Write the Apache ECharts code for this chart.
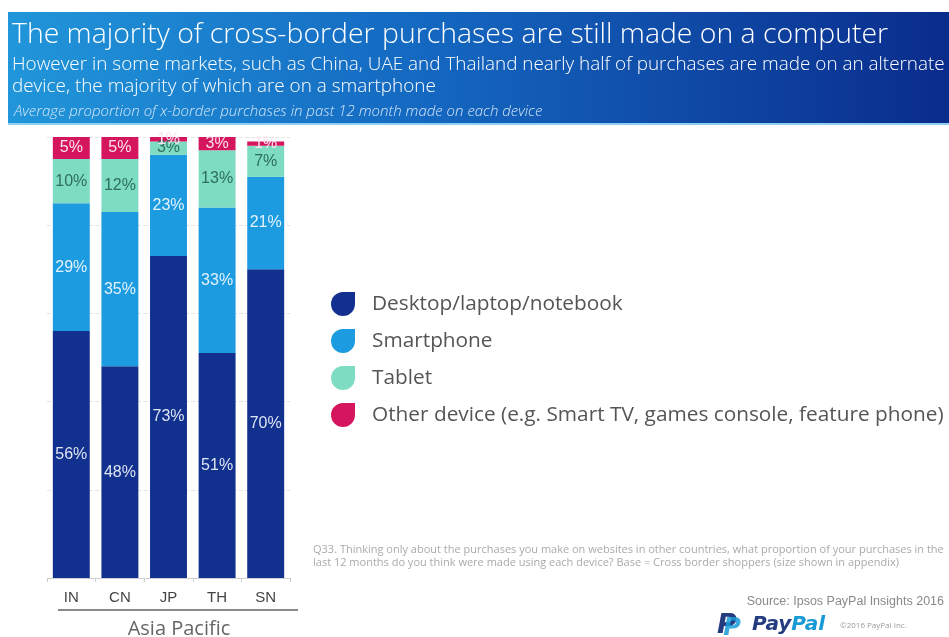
<!DOCTYPE html>
<html>
<head>
<meta charset="utf-8">
<script src="https://cdn.jsdelivr.net/npm/echarts@6/dist/echarts.min.js"></script>
<style>
html,body{margin:0;padding:0;background:#fff;}
#chart{width:949px;height:637px;}
</style>
</head>
<body>
<div id="chart"></div>
<script>
const countries = ['IN', 'CN', 'JP', 'TH', 'SN'];
const desktop = [56, 48, 73, 51, 70];
const smartphone = [29, 35, 23, 33, 21];
const tablet = [10, 12, 3, 13, 7];
const other = [5, 5, 1, 3, 1];
const seriesNames = ['Desktop/laptop/notebook', 'Smartphone', 'Tablet', 'Other device (e.g. Smart TV, games console, feature phone)'];
const yTicks = [0, 20, 40, 60, 80, 100];

const colors = ['#12308e', '#1c9be0', '#7ddcc2', '#d6155f'];
const labelColors = ['#dde4f2', '#e2f2fb', '#2f6e5e', '#fbe3ec'];
const dataSets = [desktop, smartphone, tablet, other];

const chart = echarts.init(document.getElementById('chart'));

const series = dataSets.map((d, i) => ({
  name: seriesNames[i],
  type: 'bar',
  stack: 'total',
  data: d,
  barCategoryGap: '24%',
  itemStyle: { color: colors[i] },
  label: {
    show: true,
    position: 'inside',
    formatter: '{c}%',
    fontFamily: 'Liberation Sans, Arial, sans-serif',
    fontSize: 16,
    color: labelColors[i]
  },
  emphasis: { disabled: true }
}));

const leafIcon = 'path://M10,0 L20,0 L20,10 A10,10 0 0 1 10,20 A10,10 0 0 1 0,10 A10,10 0 0 1 10,0 Z';
const headFont = '"Open Sans", Lato, sans-serif';

chart.setOption({
  animation: false,
  backgroundColor: '#fff',
  grid: { left: 47, right: 659, top: 137, bottom: 59, containLabel: false },
  xAxis: {
    type: 'category',
    data: countries,
    axisLine: { show: true, lineStyle: { color: '#cfcfcf', width: 1 } },
    axisTick: { show: true, length: 4, lineStyle: { color: '#cfcfcf' } },
    axisLabel: { color: '#444', fontSize: 15, margin: 12, fontFamily: 'Liberation Sans, Arial, sans-serif' }
  },
  yAxis: {
    type: 'value',
    min: yTicks[0],
    max: yTicks[yTicks.length - 1],
    interval: yTicks[1] - yTicks[0],
    axisLine: { show: false },
    axisTick: { show: false },
    axisLabel: { show: false },
    splitLine: { show: true, lineStyle: { color: '#e4e4e4', type: 'dashed', width: 1 } }
  },
  legend: {
    orient: 'vertical',
    left: 326,
    top: 287,
    itemGap: 13,
    itemWidth: 24,
    itemHeight: 24,
    icon: leafIcon,
    selectedMode: false,
    data: seriesNames,
    textStyle: { color: '#555', fontSize: 20.8, fontFamily: 'Open Sans, sans-serif', padding: [0, 0, 0, 12] }
  },
  graphic: [
    {
      type: 'rect', left: 8, top: 12, z: -1,
      shape: { width: 941, height: 113 },
      style: {
        fill: {
          type: 'linear', x: 0, y: 0, x2: 1, y2: 0,
          colorStops: [
            { offset: 0, color: '#2196da' },
            { offset: 0.45, color: '#1467c0' },
            { offset: 1, color: '#0a2c8c' }
          ]
        }
      }
    },
    {
      type: 'rect', left: 8, top: 123, z: -1,
      shape: { width: 941, height: 2 },
      style: { fill: '#8fd0f0' }
    },
    {
      type: 'text', x: 12, y: 35,
      style: { text: 'The majority of cross-border purchases are still made on a computer', fill: '#ffffff', font: '300 28.4px ' + headFont, verticalAlign: 'middle' }
    },
    {
      type: 'text', x: 12, y: 65,
      style: { text: 'However in some markets, such as China, UAE and Thailand nearly half of purchases are made on an alternate', fill: '#ffffff', font: '300 18.9px ' + headFont, verticalAlign: 'middle' }
    },
    {
      type: 'text', x: 12, y: 87,
      style: { text: 'device, the majority of which are on a smartphone', fill: '#ffffff', font: '300 18.9px ' + headFont, verticalAlign: 'middle' }
    },
    {
      type: 'text', x: 14, y: 112,
      style: { text: 'Average proportion of x-border purchases in past 12 month made on each device', fill: '#d2e6f7', font: 'italic 300 15px ' + headFont, verticalAlign: 'middle' }
    },
    {
      type: 'line',
      shape: { x1: 58, y1: 610, x2: 298, y2: 610 },
      style: { stroke: '#8a8a8a', lineWidth: 2 }
    },
    {
      type: 'text', x: 179, y: 629,
      style: { text: 'Asia Pacific', fill: '#666', font: '20px "Open Sans", sans-serif', align: 'center', verticalAlign: 'middle' }
    },
    {
      type: 'text', left: 313, top: 543,
      style: {
        text: 'Q33. Thinking only about the purchases you make on websites in other countries, what proportion of your purchases in the\nlast 12 months do you think were made using each device? Base = Cross border shoppers (size shown in appendix)',
        fill: '#aaaaaa', font: '11px "Open Sans", sans-serif', lineHeight: 13
      }
    },
    {
      type: 'text', x: 944, y: 602,
      style: { text: 'Source: Ipsos PayPal Insights 2016', fill: '#8a8a8a', font: '12.5px "Liberation Sans", Arial, sans-serif', align: 'right', verticalAlign: 'middle' }
    },
    {
      type: 'text', x: 727, y: 626,
      style: { text: 'P', fill: '#253b80', font: 'italic bold 27px "DejaVu Sans", sans-serif', align: 'center', verticalAlign: 'middle' }
    },
    {
      type: 'text', x: 732, y: 629,
      style: { text: 'P', fill: '#179bd7', font: 'italic bold 24px "DejaVu Sans", sans-serif', align: 'center', verticalAlign: 'middle', opacity: 0.85 }
    },
    {
      type: 'text', x: 752, y: 625,
      style: {
        text: '{a|Pay}{b|Pal}',
        verticalAlign: 'middle',
        rich: {
          a: { fill: '#253b80', font: 'italic bold 20px "DejaVu Sans", sans-serif' },
          b: { fill: '#179bd7', font: 'italic bold 20px "DejaVu Sans", sans-serif' }
        }
      }
    },
    {
      type: 'text', x: 840, y: 626,
      style: { text: '©2016 PayPal Inc.', fill: '#9a9a9a', font: '8px "Open Sans", sans-serif', verticalAlign: 'middle' }
    }
  ],
  series: series
});
</script>
</body>
</html>
